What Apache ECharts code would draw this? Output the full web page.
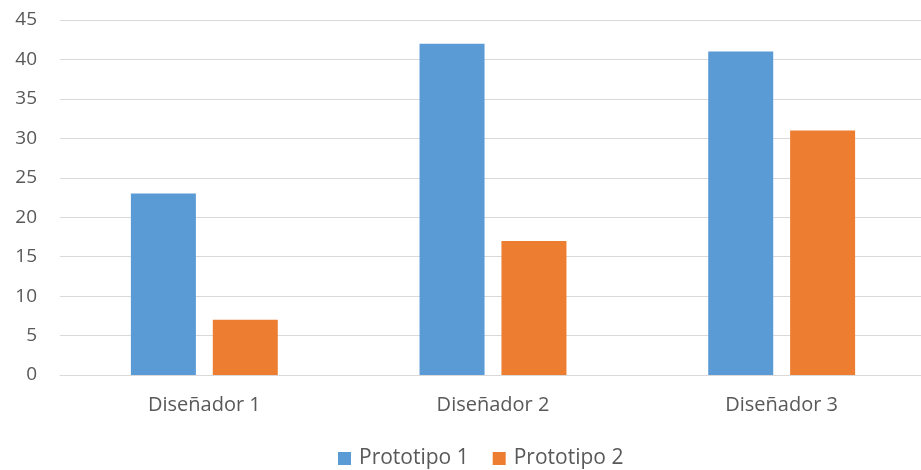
<!DOCTYPE html>
<html>
<head>
<meta charset="utf-8">
<script src="https://cdn.jsdelivr.net/npm/echarts@6/dist/echarts.min.js"></script>
<style>
  html, body { margin: 0; padding: 0; background: #ffffff; }
  #chart { width: 921px; height: 470px; }
</style>
</head>
<body>
<div id="chart"></div>
<script>
// Categories and series values
const categories = ['Diseñador 1', 'Diseñador 2', 'Diseñador 3'];
const prototipo1 = [23, 42, 41];
const prototipo2 = [7, 17, 31];
const seriesNames = ['Prototipo 1', 'Prototipo 2'];

const textColor = '#595959';
const fontFamily = '"Open Sans", "Noto Sans", sans-serif';

const chart = echarts.init(document.getElementById('chart'), null, { renderer: 'canvas' });
chart.setOption({
  animation: false,
  color: ['#5B9BD5', '#ED7D31'],
  textStyle: { fontFamily: fontFamily },
  grid: {
    left: 60, width: 866, top: 20, bottom: 95,
    containLabel: false, outerBoundsMode: 'none'
  },
  legend: {
    bottom: -4,
    left: 333,
    itemWidth: 13,
    itemHeight: 13,
    itemGap: 24,
    icon: 'rect',
    textStyle: { color: textColor, fontSize: 21, fontFamily: fontFamily, padding: [0, 0, 0, 3] },
    data: seriesNames
  },
  xAxis: {
    type: 'category',
    data: categories,
    axisLine: { lineStyle: { color: '#D9D9D9', width: 1 } },
    axisTick: { show: false },
    axisLabel: { color: textColor, fontSize: 20, margin: 20 }
  },
  yAxis: {
    type: 'value',
    min: 0,
    max: 45,
    interval: 5,
    axisLine: { show: false },
    axisTick: { show: false },
    axisLabel: { color: textColor, fontSize: 19, margin: 23 },
    splitLine: { lineStyle: { color: '#D9D9D9', width: 1 } }
  },
  series: [
    { name: seriesNames[0], type: 'bar', data: prototipo1, barWidth: 65, barGap: '26%' },
    { name: seriesNames[1], type: 'bar', data: prototipo2, barWidth: 65, barGap: '26%' }
  ]
});
</script>
</body>
</html>
